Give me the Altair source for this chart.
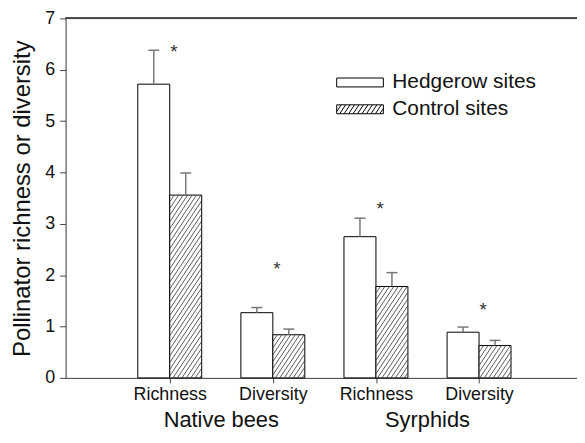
import altair as alt
import pandas as pd
import json

# ---- data ----
groups = ["Native bees", "Native bees", "Syrphids", "Syrphids"]
measures = ["Richness", "Diversity", "Richness", "Diversity"]
hedgerow_mean = [5.72, 1.27, 2.75, 0.89]
hedgerow_se = [0.66, 0.10, 0.36, 0.10]
control_mean = [3.56, 0.84, 1.78, 0.63]
control_se = [0.43, 0.11, 0.27, 0.10]
star_y = [6.42, 2.20, 3.36, 1.40]
series = ["Hedgerow sites", "Control sites"]
y_ticks = [0, 1, 2, 3, 4, 5, 6, 7]

# ---- layout constants ----
W, H = 515, 362
PAD_L, PAD_T = 58, 9
TOTAL_H = 427
XMIN, XMAX = -1.01, 3.95
YMAX = 7
BW = 0.31            # bar width in x units
CAP = 0.053          # half cap width
px_x = W / (XMAX - XMIN)
px_y = H / YMAX
FONT = "Liberation Sans"
AX = "#444444"
TXT = "#111111"

rows = []
for i in range(4):
    rows.append(dict(idx=i, series=series[0], x0=i - BW, x1=i, xc=i - BW / 2,
                     mean=hedgerow_mean[i], top=hedgerow_mean[i] + hedgerow_se[i]))
    rows.append(dict(idx=i, series=series[1], x0=i, x1=i + BW, xc=i + BW / 2,
                     mean=control_mean[i], top=control_mean[i] + control_se[i]))
bars = pd.DataFrame(rows)
bars["c0"] = bars["xc"] - CAP
bars["c1"] = bars["xc"] + CAP

# hatch lines for control bars (derived from the bar rectangles)
K, S = 1.5, 4.5
hatch = []
for i in range(4):
    wb = BW * px_x
    hb = control_mean[i] * px_y
    a = -hb / K
    while a < wb:
        xs, xe = max(0.0, a), min(wb, a + hb / K)
        if xe > xs:
            hatch.append(dict(hx0=i + xs / px_x, hx1=i + xe / px_x,
                              hy0=K * (xs - a) / px_y, hy1=K * (xe - a) / px_y))
        a += S
hatch = pd.DataFrame(hatch)

# legend symbol paths
def rect_path(w, h):
    return f"M{-w},{-h}H{w}V{h}H{-w}Z"

LW, LH = 2.35, 0.45
p_plain = rect_path(LW, LH)
segs = []
hh = 2 * LH
step = 0.45
a = -LW - hh / K
while a < LW:
    xs, xe = max(-LW, a), min(LW, a + hh / K)
    if xe > xs:
        ys = LH - K * (xs - a)
        ye = LH - K * (xe - a)
        segs.append(f"M{xs:.3f},{ys:.3f}L{xe:.3f},{ye:.3f}")
    a += step
p_hatch = p_plain + "".join(segs)

labels_df = pd.DataFrame({"group": groups, "idx": list(range(4))})
stars_df = pd.DataFrame({"idx": [i + 0.04 for i in range(4)], "y": star_y})

xscale = alt.Scale(domain=[XMIN, XMAX], nice=False, zero=False)
yscale = alt.Scale(domain=[0, YMAX], nice=False)

xaxis = alt.Axis(values=[0, 1, 2, 3], labelExpr=f"{json.dumps(measures)}[datum.value]",
                 title=None, grid=False, tickSize=5, labelPadding=3, labelFontSize=18,
                 labelFont=FONT, labelColor=TXT, domainColor=AX, tickColor=AX)
yaxis = alt.Axis(values=y_ticks, format="d", title="Pollinator richness or diversity", grid=False,
                 tickSize=6, labelPadding=5, labelFontSize=18, labelFont=FONT,
                 labelColor=TXT, titleFont=FONT, titleFontSize=24, titleFontWeight="normal",
                 titleColor=TXT, titlePadding=10, domainColor=AX, tickColor=AX)

base = alt.Chart(bars)

bar_layer = base.mark_rect(stroke="black", strokeWidth=1).encode(
    x=alt.X("x0:Q", scale=xscale, axis=xaxis),
    x2="x1:Q",
    y=alt.Y("mean:Q", scale=yscale, axis=yaxis),
    y2=alt.datum(0),
    fill=alt.value("white"),
)

hatch_layer = alt.Chart(hatch).mark_rule(color="#333", strokeWidth=0.8).encode(
    x="hx0:Q", x2="hx1:Q", y="hy0:Q", y2="hy1:Q")

err = base.mark_rule(color="#777", strokeWidth=1.5).encode(x="xc:Q", y="mean:Q", y2="top:Q")
cap = base.mark_rule(color="#777", strokeWidth=1.5).encode(x="c0:Q", x2="c1:Q", y="top:Q")

legend_layer = base.transform_filter("false").mark_point(
    filled=False, color="black", strokeWidth=1, opacity=1).encode(
    x="xc:Q", y="mean:Q",
    shape=alt.Shape("series:N", scale=alt.Scale(domain=series, range=[p_plain, p_hatch]),
                    legend=alt.Legend(
                        title=None, orient="none", legendX=286, legendY=54,
                        symbolSize=400, symbolFillColor="white", symbolStrokeColor="black",
                        symbolStrokeWidth=1, symbolOpacity=1,
                        labelFont=FONT, labelFontSize=21, labelColor=TXT,
                        labelOffset=22, rowPadding=5, padding=0)),
)

stars = alt.Chart(stars_df).mark_text(text="*", fontSize=19, font=FONT, color="#333",
                                      baseline="middle", dy=4).encode(x="idx:Q", y="y:Q")

glabels = alt.Chart(labels_df).mark_text(fontSize=22, font=FONT, color=TXT,
                                         baseline="alphabetic").encode(
    x="mean(idx):Q", y=alt.value(TOTAL_H - PAD_T - 7), text="group:N")

top_line = alt.Chart(bars).mark_rule(color=AX, strokeWidth=1.2).encode(
    y=alt.datum(YMAX), x=alt.value(0), x2=alt.value(W))

chart = alt.layer(bar_layer, hatch_layer, err, cap, legend_layer, stars, glabels, top_line).properties(
    width=W, height=H,
    autosize=alt.AutoSizeParams(type="none"),
    padding={"left": PAD_L, "top": PAD_T, "right": 0, "bottom": TOTAL_H - PAD_T - H},
).configure_view(stroke=None).configure(background="white")

chart.save("out.html", embed_options={"renderer": "svg", "actions": False})
